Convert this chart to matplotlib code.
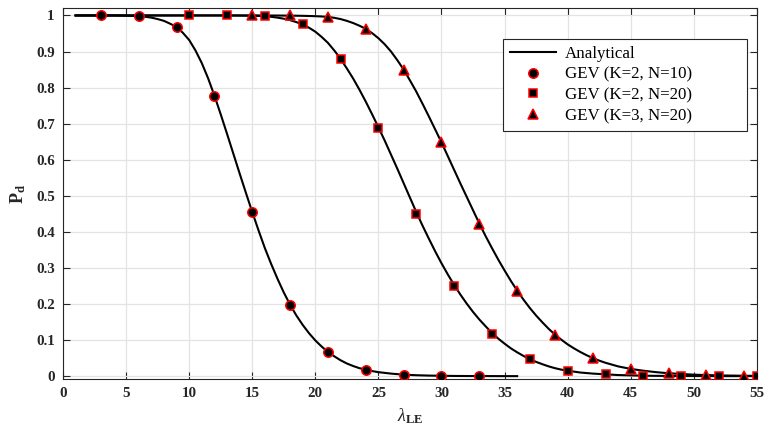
import numpy as np
import matplotlib
matplotlib.use("Agg")
import matplotlib.pyplot as plt

plt.rcParams['font.family'] = ['Liberation Serif', 'DejaVu Serif']
plt.rcParams['mathtext.fontset'] = 'custom'
plt.rcParams['mathtext.rm'] = 'Liberation Serif'
plt.rcParams['mathtext.it'] = 'Liberation Serif:italic'
plt.rcParams['mathtext.bf'] = 'Liberation Serif:bold'

# Analytical curves
x_a1 = [1, 2, 3, 4, 5, 5.5, 6, 6.5, 7, 7.5, 8, 8.5, 9, 9.5, 10, 10.5, 11, 11.5, 12,
        12.5, 13, 13.5, 14, 14.5, 15, 15.5, 16, 16.5, 17, 17.5, 18, 18.5, 19, 19.5,
        20, 20.5, 21, 21.5, 22, 22.5, 23, 23.5, 24, 24.5, 25, 26, 27, 28, 29, 30,
        31, 32, 33, 34, 35, 36]
y_a1 = [1.0, 1.0, 1.0, 1.0, 0.9993, 0.9988, 0.998, 0.9965, 0.994, 0.990, 0.985,
        0.977, 0.968, 0.952, 0.932, 0.903, 0.868, 0.826, 0.778, 0.726, 0.672, 0.617,
        0.562, 0.508, 0.455, 0.404, 0.355, 0.311, 0.270, 0.232, 0.198, 0.168, 0.142,
        0.119, 0.099, 0.082, 0.067, 0.055, 0.044, 0.035, 0.028, 0.022, 0.018, 0.014,
        0.011, 0.007, 0.004, 0.0025, 0.0015, 0.001, 0.0005, 0.0003, 0.0002, 0.0001,
        0.0, 0.0]

x_a2 = [1, 5, 10, 13, 14, 15, 15.5, 16, 16.5, 17, 17.5, 18, 18.5, 19, 19.5, 20, 20.5,
        21, 21.5, 22, 22.5, 23, 23.5, 24, 24.5, 25, 25.5, 26, 26.5, 27, 27.5, 28,
        28.5, 29, 29.5, 30, 30.5, 31, 31.5, 32, 32.5, 33, 33.5, 34, 34.5, 35, 35.5,
        36, 36.5, 37, 37.5, 38, 38.5, 39, 39.5, 40, 41, 42, 43, 44, 45, 46, 47, 48,
        49, 50, 51, 52, 53, 54, 55]
y_a2 = [1.0, 1.0, 1.0, 1.0, 0.9997, 0.9993, 0.9988, 0.998, 0.9963, 0.994, 0.991,
        0.987, 0.9815, 0.975, 0.966, 0.955, 0.9405, 0.924, 0.903, 0.880, 0.853,
        0.825, 0.794, 0.761, 0.726, 0.690, 0.653, 0.614, 0.575, 0.535, 0.495, 0.455,
        0.417, 0.381, 0.346, 0.313, 0.282, 0.253, 0.226, 0.201, 0.178, 0.157, 0.138,
        0.120, 0.104, 0.090, 0.077, 0.066, 0.056, 0.047, 0.0395, 0.033, 0.027, 0.022,
        0.018, 0.015, 0.010, 0.007, 0.005, 0.003, 0.002, 0.0012, 0.0008, 0.0005,
        0.0003, 0.0002, 0.0001, 0.0, 0.0, 0.0, 0.0]

x_a3 = [1, 5, 10, 15, 17, 18, 19, 19.5, 20, 20.5, 21, 21.5, 22, 22.5, 23, 23.5, 24,
        24.5, 25, 25.5, 26, 26.5, 27, 27.5, 28, 28.5, 29, 29.5, 30, 30.5, 31, 31.5,
        32, 32.5, 33, 33.5, 34, 34.5, 35, 35.5, 36, 36.5, 37, 37.5, 38, 38.5, 39,
        39.5, 40, 40.5, 41, 41.5, 42, 42.5, 43, 43.5, 44, 45, 46, 47, 48, 49, 50,
        51, 52, 53, 54, 55]
y_a3 = [1.0, 1.0, 1.0, 1.0, 0.9998, 0.9995, 0.999, 0.9985, 0.998, 0.9972, 0.996,
        0.9935, 0.990, 0.985, 0.979, 0.9715, 0.963, 0.951, 0.937, 0.920, 0.900,
        0.876, 0.850, 0.820, 0.789, 0.755, 0.720, 0.684, 0.648, 0.610, 0.572, 0.534,
        0.497, 0.460, 0.423, 0.388, 0.355, 0.323, 0.293, 0.264, 0.237, 0.212, 0.189,
        0.168, 0.149, 0.131, 0.115, 0.101, 0.088, 0.077, 0.067, 0.058, 0.050, 0.043,
        0.037, 0.032, 0.027, 0.020, 0.015, 0.011, 0.008, 0.006, 0.004, 0.003, 0.002,
        0.0015, 0.001, 0.0008]

# GEV points
x_g1 = [3, 6, 9, 12, 15, 18, 21, 24, 27, 30, 33]
y_g1 = [1.0, 0.998, 0.968, 0.778, 0.455, 0.198, 0.067, 0.018, 0.004, 0.0005, 0.0]

x_g2 = [10, 13, 16, 19, 22, 25, 28, 31, 34, 37, 40, 43, 46, 49, 52, 55]
y_g2 = [1.0, 1.0, 0.998, 0.975, 0.88, 0.688, 0.45, 0.25, 0.118, 0.047, 0.015,
        0.005, 0.001, 0.0, 0.0, 0.0]

x_g3 = [15, 18, 21, 24, 27, 30, 33, 36, 39, 42, 45, 48, 51, 54]
y_g3 = [1.0, 1.0, 0.996, 0.963, 0.85, 0.648, 0.423, 0.237, 0.115, 0.05, 0.02,
        0.008, 0.003, 0.001]

labels = ['Analytical', 'GEV (K=2, N=10)', 'GEV (K=2, N=20)', 'GEV (K=3, N=20)']

fig = plt.figure(figsize=(7.7, 4.34), dpi=100)
ax = fig.add_axes([0.0818, 0.1267, 0.9012, 0.8543])

ax.plot(x_a1, y_a1, color='black', lw=1.5, label=labels[0], zorder=2)
ax.plot(x_a2, y_a2, color='black', lw=1.5, zorder=2)
ax.plot(x_a3, y_a3, color='black', lw=1.5, zorder=2)

ax.plot(x_g1, y_g1, 'o', ms=6.8, mfc='black', mec='red', mew=1.1, label=labels[1], zorder=3)
ax.plot(x_g2, y_g2, 's', ms=5.5, mfc='black', mec='red', mew=1.1, label=labels[2], zorder=3)
ax.plot(x_g3, y_g3, '^', ms=7, mfc='black', mec='red', mew=1.1, label=labels[3], zorder=3)

ax.set_xlim(0, 55)
ax.set_ylim(-0.008, 1.02)
ax.set_xticks(np.arange(0, 56, 5))
ax.set_yticks(np.arange(0, 1.01, 0.1))
ax.set_yticklabels(['0', '0.1', '0.2', '0.3', '0.4', '0.5', '0.6', '0.7', '0.8', '0.9', '1'])
ax.grid(True, color='#e3e3e3', lw=0.9)
ax.set_axisbelow(True)
ax.tick_params(direction='in', top=True, right=True, length=5, width=0.8,
               labelsize=10.8, colors='#262626', pad=6)
for lab in ax.get_xticklabels() + ax.get_yticklabels():
    lab.set_fontweight('bold')
for sp in ax.spines.values():
    sp.set_color('#262626')
    sp.set_linewidth(0.8)

ax.set_xlabel(r'$\lambda_{\mathbf{LE}}$', fontsize=13, color='#262626', labelpad=4)
ax.set_ylabel(r'$\mathbf{P_d}$', fontsize=13, color='#262626', labelpad=6)

leg = ax.legend(loc='upper left', bbox_to_anchor=(0.634, 0.68, 0.3516, 0.237),
                mode='expand', fontsize=12.2, frameon=True, fancybox=False,
                framealpha=1, edgecolor='#262626', handlelength=2.75,
                handletextpad=0.5, borderpad=0.4, labelspacing=0.28,
                borderaxespad=0.0)
leg.get_frame().set_linewidth(0.8)

fig.savefig('out.png', dpi=100)
